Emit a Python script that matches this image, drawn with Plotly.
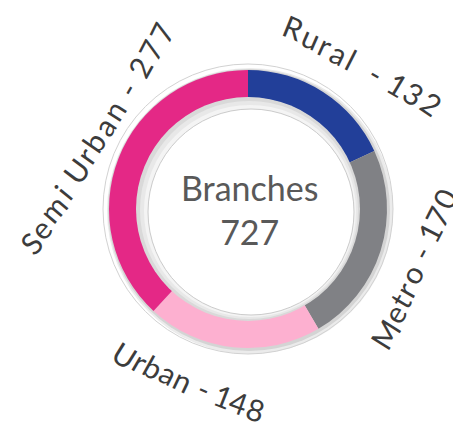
import plotly.graph_objects as go

W, H = 461, 430
OFF = 8  # the page body adds an 8px margin, so draw in a slightly smaller figure

# data
labels = ['Rural', 'Metro', 'Urban', 'Semi Urban']
values = [132, 170, 148, 277]
colors = ['#223f99', '#808185', '#fdb0d0', '#e42886']
gaps = ['  ', ' ', ' ', ' ']
center_title = 'Branches'

# donut geometry (pixels in the 461x430 picture)
cx, cy = 248, 209
r_out = 139
hole = 0.8

# where each curved label runs (start/end centre of first/last glyph, rotation)
label_paths = {
    'Rural': dict(p0=(293, 27), p1=(431, 103), a0=22, a1=34),
    'Metro': dict(p0=(385, 334), p1=(444, 199), a0=-58, a1=-64),
    'Urban': dict(p0=(125, 355), p1=(255, 409), a0=32, a1=18),
    'Semi Urban': dict(p0=(31, 243), p1=(161, 33), a0=-47, a1=-64),
}

# rough glyph advance widths (em) to spread the letters
adv = {'R': 0.62, 'u': 0.56, 'r': 0.38, 'a': 0.50, 'l': 0.25, ' ': 0.26, '-': 0.36,
       'M': 0.86, 'e': 0.52, 't': 0.35, 'o': 0.57, 'U': 0.68, 'b': 0.56, 'n': 0.56,
       'S': 0.50, 'm': 0.84, 'i': 0.24, '1': 0.45}
font = 'Gill Sans, Gill Sans MT, Lato, sans-serif'
txt_col = '#3c3c3c'

FW, FH = W - OFF, H - OFF


def px(x, y):
    return (x - OFF) / FW, 1 - (y - OFF) / FH


fig = go.Figure()
x0, y1 = px(cx - r_out, cy - r_out)
x1, y0 = px(cx + r_out, cy + r_out)
fig.add_trace(go.Pie(labels=labels, values=values, hole=hole, sort=False,
                     direction='clockwise', rotation=0,
                     marker=dict(colors=colors, line=dict(width=0)),
                     textinfo='none', hoverinfo='label+value', showlegend=False,
                     domain=dict(x=[x0, x1], y=[y0, y1])))

ax, ay = px(cx, cy)


def circle(r, dx=0, dy=0, fill=None, line=None, layer='above'):
    return dict(type='circle', xref='paper', yref='paper', xsizemode='pixel', ysizemode='pixel',
                xanchor=ax, yanchor=ay, x0=-r + dx, x1=r + dx, y0=-r - dy, y1=r - dy,
                fillcolor=fill or 'rgba(0,0,0,0)', line=dict(color=line or 'rgba(0,0,0,0)', width=1),
                layer=layer)


shapes = [
    circle(143, 2, 2, fill='#ebebeb', layer='below'),
    circle(141, 1, 1, fill='#d4d4d4', layer='below'),
    circle(145, line='#d2d2d2', layer='below'),
    circle(112, fill='#d9d9d9'),
    circle(109, 1, 1, fill='#e8e8e8'),
    circle(106, 2, 2, fill='#f4f4f4'),
    circle(103, 3, 3, fill='white', line='#cbcbcb'),
]

bx, by = px(cx + 1, cy)
annotations = [dict(x=bx, y=by, xref='paper', yref='paper', showarrow=False,
                    text=f'{center_title}<br>{sum(values)}', xanchor='center', yanchor='middle',
                    font=dict(family=font, size=34, color='#595959'))]

for name, val, gap in zip(labels, values, gaps):
    text = f'{name}{gap}- {val}'
    p = label_paths[name]
    w = [adv.get(c, 0.58) for c in text]
    pos = []
    acc = 0
    for wi in w:
        pos.append(acc + wi / 2)
        acc += wi
    span = pos[-1] - pos[0]
    for c, s in zip(text, pos):
        if c == ' ':
            continue
        t = (s - pos[0]) / span
        x = p['p0'][0] + t * (p['p1'][0] - p['p0'][0])
        y = p['p0'][1] + t * (p['p1'][1] - p['p0'][1])
        ang = p['a0'] + t * (p['a1'] - p['a0'])
        xp, yp = px(x, y)
        annotations.append(dict(x=xp, y=yp, xref='paper', yref='paper', showarrow=False,
                                text=c, textangle=ang, xanchor='center', yanchor='middle',
                                font=dict(family=font, size=30, color=txt_col)))

fig.update_layout(width=FW, height=FH, margin=dict(l=0, r=0, t=0, b=0),
                  paper_bgcolor='white', plot_bgcolor='white',
                  shapes=shapes, annotations=annotations)

fig.write_html('out.html')
